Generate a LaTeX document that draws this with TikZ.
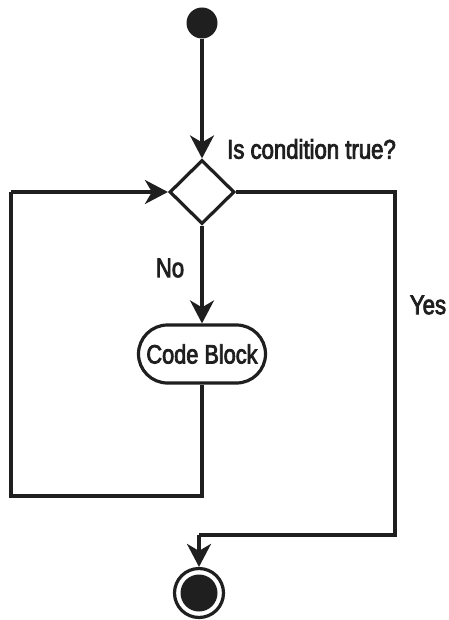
\documentclass[tikz,border=0pt]{standalone}
\usepackage{fontspec}
\setmainfont[FakeStretch=0.82,FakeBold=3]{Liberation Sans}
\usetikzlibrary{shapes.geometric,shapes.misc,arrows.meta}
\begin{document}
\begin{tikzpicture}[x=1pt,y=-1pt,
  line/.style={line width=3.2pt,draw=black!88},
  arr/.style={line,-{Stealth[length=23pt,width=24pt,inset=7pt]}},
  lbl/.style={font=\fontsize{27}{30}\selectfont,text=black!88,inner sep=0pt},
  decision/.style={diamond,draw=black!88,minimum width=65pt,minimum height=64pt,inner sep=0pt,line width=3.2pt},
  action/.style={rounded rectangle,draw=black!88,minimum width=135pt,minimum height=58pt,inner xsep=4pt,line width=3.2pt,font=\fontsize{26.5}{30}\selectfont,text=black!88}]
\useasboundingbox (0,0) rectangle (448,620);
\node[circle,fill=black!88,minimum size=31pt,inner sep=0pt] (start) at (202,23) {};
\node[decision] (dec) at (202,192) {};
\node[action] (code) at (202,354) {Code Block};
\node[circle,draw=black!88,minimum size=49pt,inner sep=0pt,line width=3.2pt] (end) at (199,593) {};
\node[circle,fill=black!88,minimum size=37pt,inner sep=0pt] at (end.center) {};
\node[lbl,anchor=west] (q) at (227,149) {Is condition true?};
\node[lbl] (no) at (170,268) {No};
\node[lbl] (yes) at (428,305) {Yes};
\coordinate (r1) at (395,192);
\coordinate (r2) at (395,535);
\coordinate (r3) at (199,535);
\coordinate (l1) at (202,496);
\coordinate (l2) at (11,496);
\coordinate (l3) at (11,192);
\draw[arr] (start) -- (dec.north);
\draw[arr] (dec.south) -- (code.north);
\draw[line] (dec.east) -- (r1) -- (r2) -- (r3);
\draw[arr] (r3) -- (end.north);
\draw[line] (code.south) -- (l1) -- (l2) -- (l3);
\draw[arr] (l3) -- (dec.west);
\end{tikzpicture}
\end{document}
